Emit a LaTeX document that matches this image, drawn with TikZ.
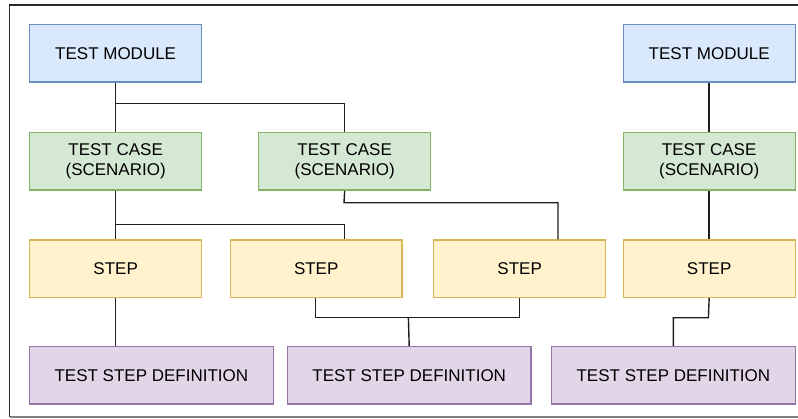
\documentclass[tikz,border=0pt]{standalone}
\usepackage{fontspec}
\setmainfont{Liberation Sans}
\begin{document}
\begin{tikzpicture}[x=1pt,y=-1pt,
  font=\fontsize{17}{20.8}\selectfont,
  box/.style={draw, line width=1.3pt, inner sep=0pt, align=center, anchor=north west},
  module/.style={box, fill={rgb,255:red,218;green,232;blue,252}, draw={rgb,255:red,108;green,142;blue,191}},
  testcase/.style={box, fill={rgb,255:red,213;green,232;blue,212}, draw={rgb,255:red,130;green,179;blue,102}},
  stepbox/.style={box, fill={rgb,255:red,255;green,242;blue,204}, draw={rgb,255:red,214;green,182;blue,86}},
  stepdef/.style={box, fill={rgb,255:red,225;green,213;blue,231}, draw={rgb,255:red,150;green,115;blue,166}},
  link/.style={draw={rgb,255:red,30;green,30;blue,30}, line width=1.4pt}]
\useasboundingbox (0,0) rectangle (798,419);
% outer frame (open to the right)
\draw[line width=1.6pt, draw={rgb,255:red,40;green,40;blue,40}] (820,4.8) -- (9.5,4.8) -- (9.5,417);
\draw[line width=1.4pt, draw={rgb,255:red,130;green,130;blue,130}] (9.5,417) -- (820,417);

% row 1: modules
\node[module, minimum width=172pt, minimum height=57.5pt] (tm1) at (29,24) {TEST MODULE};
\node[module, minimum width=172pt, minimum height=57.5pt] (tm2) at (622.5,24) {TEST MODULE};
% row 2: test cases
\node[testcase, minimum width=172pt, minimum height=57.5pt] (tc1) at (29,132) {TEST CASE\\(SCENARIO)};
\node[testcase, minimum width=172pt, minimum height=57.5pt] (tc2) at (258,132) {TEST CASE\\(SCENARIO)};
\node[testcase, minimum width=172pt, minimum height=57.5pt] (tc3) at (622.5,132) {TEST CASE\\(SCENARIO)};
% row 3: steps
\node[stepbox, minimum width=172pt, minimum height=57.5pt] (s1) at (29,239.3) {STEP};
\node[stepbox, minimum width=171.5pt, minimum height=57.5pt] (s2) at (229.8,239.3) {STEP};
\node[stepbox, minimum width=172pt, minimum height=57.5pt] (s3) at (433,239.3) {STEP};
\node[stepbox, minimum width=172pt, minimum height=57.5pt] (s4) at (622.5,239.3) {STEP};
% row 4: step definitions
\node[stepdef, minimum width=243.5pt, minimum height=57.5pt] (d1) at (29,346) {TEST STEP DEFINITION};
\node[stepdef, minimum width=243.5pt, minimum height=57.5pt] (d2) at (286.8,346) {TEST STEP DEFINITION};
\node[stepdef, minimum width=243.5pt, minimum height=57.5pt] (d3) at (551,346) {TEST STEP DEFINITION};

% connectors
\coordinate (j1) at (115.3,103.3);
\coordinate (j2) at (115.3,224.8);
\coordinate (j3) at (344,202.8);
\coordinate (j4) at (408.4,317.8);
\coordinate (j5) at (708.4,317.8);

\draw[link] (tm1.south) -- (tc1.north);
\draw[link] (j1) -| (tc2.north);
\draw[link] (tc1.south) -- (s1.north);
\draw[link] (j2) -| (s2.north -| tc2.south);
\draw[link] (tc2.south) -- (j3) -| (s3.north -| 558,0);
\draw[link] (s1.south) -- (d1.north -| s1.south);
\draw[link] (s2.south -| 315.2,0) |- (j4) -| (s3.south -| 519.6,0);
\draw[link] (j4) -- (d2.north);
\draw[link] (tm2.south) -- (tc3.north);
\draw[link] (tc3.south) -- (s4.north);
\draw[link] (s4.south) -- (j5) -| (d3.north);
\end{tikzpicture}
\end{document}
